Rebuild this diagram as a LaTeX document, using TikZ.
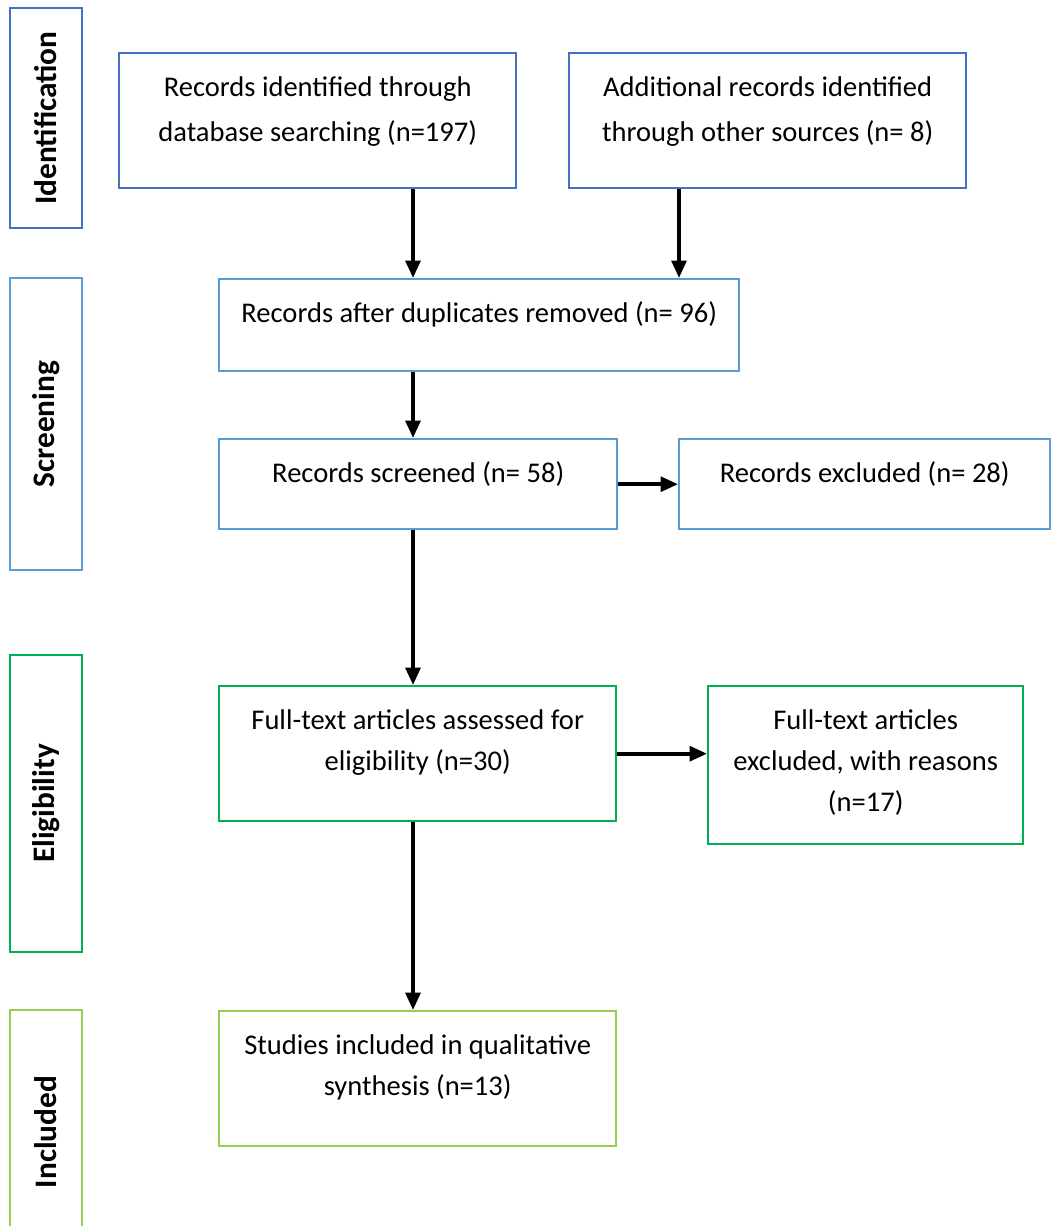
\documentclass[tikz,border=0pt]{standalone}
\usepackage{fontspec}
\setmainfont{Carlito}
\usetikzlibrary{arrows.meta}
\definecolor{darkblue}{HTML}{4472C4}
\definecolor{lightblue}{HTML}{5B9BD5}
\definecolor{midgreen}{HTML}{00B050}
\definecolor{lightgreen}{HTML}{92D050}

\begin{document}
\begin{tikzpicture}[
  x=0.75pt, y=-0.75pt,
  font=\fontsize{21.4}{30.75}\selectfont,
  box/.style={draw, line width=1.8pt, anchor=north west, align=center,
              inner xsep=0pt, inner ysep=0pt, text height=32.25pt},
  twoline/.style={box, text height=63pt, text depth=38.25pt},
  phase/.style={draw, line width=1.8pt, rotate=90, minimum height=54pt,
                inner sep=0pt, font=\fontsize{23.5}{26}\selectfont\bfseries},
  arr/.style={-{Triangle[length=13pt, width=11pt]}, line width=2.8pt}
]
\useasboundingbox (0,0) rectangle (1050,1226);

% phase labels on the left
\node[phase, draw=darkblue, minimum width=165pt] (ident) at (46,118) {Identification};
\node[phase, draw=lightblue, minimum width=219pt] (screen) at (46,424) {Screening};
\node[phase, draw=midgreen, minimum width=222.75pt] (elig) at (46,803.5) {Eligibility};
\node[phase, draw=lightgreen, minimum width=183pt] (incl) at (46,1132) {Included};

% flow boxes
\node[box, draw=darkblue, minimum width=297.75pt, text height=66pt, text depth=35.25pt] (db) at (118,52)
  {Records identified through\\[3pt]database searching (n=197)};
\node[box, draw=darkblue, minimum width=297.75pt, text height=66pt, text depth=35.25pt] (other) at (568,52)
  {Additional records identified\\[3pt]through other sources (n= 8)};
\node[box, draw=lightblue, minimum width=390pt, text depth=36.75pt] (dup) at (218,278)
  {Records after duplicates removed (n= 96)};
\node[box, draw=lightblue, minimum width=298.5pt, text depth=35.25pt] (screened) at (218,438)
  {Records screened (n= 58)};
\node[box, draw=lightblue, minimum width=278.25pt, text depth=35.25pt] (excl) at (678,438)
  {Records excluded (n= 28)};
\node[twoline, draw=midgreen, minimum width=297.75pt] (fulltext) at (218,685)
  {Full-text articles assessed for\\eligibility (n=30)};
\node[box, draw=midgreen, minimum width=236.25pt, text height=93.75pt, text depth=24.75pt] (reasons) at (707,685)
  {Full-text articles\\excluded, with reasons\\(n=17)};
\node[twoline, draw=lightgreen, minimum width=297.75pt] (studies) at (218,1010)
  {Studies included in qualitative\\synthesis (n=13)};

\coordinate (spine) at (413,0);
\coordinate (branch) at (679,0);

\draw[arr] (db.south -| spine) -- (dup.north -| spine);
\draw[arr] (other.south -| branch) -- (dup.north -| branch);
\draw[arr] (dup.south -| spine) -- (screened.north -| spine);
\draw[arr] (screened) -- (excl);
\draw[arr] (screened.south -| spine) -- (fulltext.north -| spine);
\draw[arr] (fulltext.east) -- (fulltext.east -| reasons.west);
\draw[arr] (fulltext.south -| spine) -- (studies.north -| spine);
\end{tikzpicture}
\end{document}
